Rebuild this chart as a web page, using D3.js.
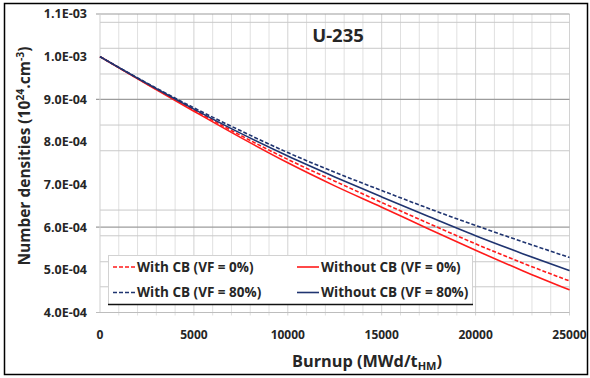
<!DOCTYPE html>
<html><head><meta charset="utf-8">
<script src="https://cdn.jsdelivr.net/npm/d3@7"></script>
<style>
html,body{margin:0;padding:0;background:#fff;}
svg{display:block;font-family:"Open Sans",sans-serif;}
</style></head>
<body>
<svg id="chart" width="590" height="378"></svg>
<script>
// ---- data ----
const burnup = [0, 2500, 5000, 7500, 10000, 12500, 15000, 17500, 20000, 22500, 25000];
const withCB0    = [1.000e-3, 0.936e-3, 0.875e-3, 0.815e-3, 0.759e-3, 0.708e-3, 0.658e-3, 0.609e-3, 0.561e-3, 0.516e-3, 0.474e-3];
const withoutCB0 = [1.000e-3, 0.935e-3, 0.872e-3, 0.810e-3, 0.751e-3, 0.697e-3, 0.647e-3, 0.596e-3, 0.546e-3, 0.498e-3, 0.453e-3];
const withCB80   = [1.000e-3, 0.938e-3, 0.880e-3, 0.826e-3, 0.775e-3, 0.729e-3, 0.686e-3, 0.644e-3, 0.604e-3, 0.566e-3, 0.529e-3];
const withoutCB80= [1.000e-3, 0.937e-3, 0.877e-3, 0.820e-3, 0.767e-3, 0.718e-3, 0.671e-3, 0.625e-3, 0.580e-3, 0.538e-3, 0.498e-3];
const seriesNames = ["With CB (VF = 0%)", "Without CB (VF = 0%)", "With CB (VF = 80%)", "Without CB (VF = 80%)"];
const yTicks = [4.0e-4, 5.0e-4, 6.0e-4, 7.0e-4, 8.0e-4, 9.0e-4, 1.0e-3, 1.1e-3];
const yTickLabels = ["4.0E-04", "5.0E-04", "6.0E-04", "7.0E-04", "8.0E-04", "9.0E-04", "1.0E-03", "1.1E-03"];
const xTicks = [0, 5000, 10000, 15000, 20000, 25000];
// horizontal gridlines as they appear in the picture (irregular)
const hGrid = [1.0805e-3, 1.0196e-3, 0.9593e-3, 0.8396e-3, 0.7793e-3, 0.6402e-3, 0.5799e-3, 0.519e-3, 0.4603e-3];
const hGridDark = [1.1e-3, 0.9e-3, 0.6e-3];
const vGrid = d3.range(1000, 25001, 1000);

// ---- layout ----
const svg = d3.select("#chart");
const x = d3.scaleLinear().domain([0, 25000]).range([100, 569.5]);
const y = d3.scaleLinear().domain([4.0e-4, 1.1e-3]).range([312.5, 14]);
const txt = "#262626";

// frame
svg.append("rect").attr("x", 4.5).attr("y", 3.5).attr("width", 583).attr("height", 371)
  .attr("fill", "#fff").attr("stroke", "#000").attr("stroke-width", 1.5);

// vertical grid
svg.append("g").selectAll("line").data(vGrid).join("line")
  .attr("x1", d => x(d)).attr("x2", d => x(d))
  .attr("y1", y(1.1e-3)).attr("y2", y(4.0e-4) + 3)
  .attr("stroke", d => d % 5000 === 0 ? "#d2d2d2" : "#e0e0e0").attr("stroke-width", 1);

// horizontal grid
svg.append("g").selectAll("line").data(hGrid).join("line")
  .attr("x1", x(0)).attr("x2", x(25000))
  .attr("y1", d => y(d)).attr("y2", d => y(d))
  .attr("stroke", "#c9c9c9").attr("stroke-width", 1);
svg.append("g").selectAll("line").data(hGridDark).join("line")
  .attr("x1", x(0) - 4).attr("x2", x(25000))
  .attr("y1", d => y(d)).attr("y2", d => y(d))
  .attr("stroke", "#9c9c9c").attr("stroke-width", 1.2);

// axes lines
svg.append("line").attr("x1", x(0)).attr("x2", x(0)).attr("y1", y(1.1e-3)).attr("y2", y(4e-4))
  .attr("stroke", "#cfcfcf");
svg.append("line").attr("x1", x(0) - 4).attr("x2", x(25000)).attr("y1", y(4e-4)).attr("y2", y(4e-4))
  .attr("stroke", "#bdbdbd").attr("stroke-width", 1.2);

// y tick labels
svg.append("g").selectAll("text").data(yTicks).join("text")
  .attr("x", 87).attr("y", d => y(d)).attr("dy", "0.35em")
  .attr("text-anchor", "end").attr("font-size", 12.5).attr("font-weight", 700).attr("fill", txt)
  .text((d, i) => yTickLabels[i]);

// x tick labels
svg.append("g").selectAll("text").data(xTicks).join("text")
  .attr("x", d => x(d)).attr("y", 339)
  .attr("text-anchor", "middle").attr("font-size", 12).attr("font-weight", 700).attr("fill", txt)
  .text(d => d);

// axis titles
const xt = svg.append("text").attr("x", 367).attr("y", 367).attr("text-anchor", "middle")
  .attr("font-size", 16.3).attr("font-weight", 700).attr("fill", txt);
xt.append("tspan").text("Burnup (MWd/t");
xt.append("tspan").attr("font-size", 11).attr("dy", 3).text("HM");
xt.append("tspan").attr("dy", -3).text(")");

const yt = svg.append("text").attr("transform", "translate(30,156) rotate(-90)").attr("text-anchor", "middle")
  .attr("font-size", 15.5).attr("font-weight", 700).attr("fill", txt);
yt.append("tspan").text("Number densities (10");
yt.append("tspan").attr("font-size", 10.5).attr("dy", -6).text("24");
yt.append("tspan").attr("dy", 6).text(".cm");
yt.append("tspan").attr("font-size", 10.5).attr("dy", -6).text("-3");
yt.append("tspan").attr("dy", 6).text(")");

// title
svg.append("text").attr("x", 338).attr("y", 42).attr("text-anchor", "middle")
  .attr("font-size", 18.5).attr("font-weight", 700).attr("fill", txt).text("U-235");

// series
const red = "#ff1a1a", navy = "#1f3470";
const series = [
  {name: seriesNames[0], vals: withCB0, color: red, dash: "4,2"},
  {name: seriesNames[1], vals: withoutCB0, color: red, dash: null},
  {name: seriesNames[2], vals: withCB80, color: navy, dash: "4,2"},
  {name: seriesNames[3], vals: withoutCB80, color: navy, dash: null}
];
const line = d3.line().x(d => x(d[0])).y(d => y(d[1])).curve(d3.curveMonotoneX);
svg.append("g").selectAll("path").data(series).join("path")
  .attr("d", s => line(burnup.map((b, i) => [b, s.vals[i]])))
  .attr("fill", "none").attr("stroke", s => s.color).attr("stroke-width", 1.6)
  .attr("stroke-dasharray", s => s.dash);

// legend
const lg = svg.append("g");
lg.append("rect").attr("x", 108.5).attr("y", 255.5).attr("width", 364).attr("height", 49)
  .attr("fill", "#fff").attr("stroke", "#d2d2d2");
lg.append("line").attr("x1", 108).attr("x2", 473).attr("y1", 304.5).attr("y2", 304.5)
  .attr("stroke", "#111").attr("stroke-width", 1.5);
const lpos = [[113, 267], [297, 267], [113, 292.5], [297, 292.5]];
series.forEach((s, i) => {
  const [lx, ly] = lpos[i];
  lg.append("line").attr("x1", lx).attr("x2", lx + 22).attr("y1", ly).attr("y2", ly)
    .attr("stroke", s.color).attr("stroke-width", 1.6).attr("stroke-dasharray", s.dash);
  lg.append("text").attr("x", lx + 24).attr("y", ly).attr("dy", "0.36em")
    .attr("font-size", 13.5).attr("font-weight", 700).attr("fill", txt).text(s.name);
});
</script>
</body></html>
